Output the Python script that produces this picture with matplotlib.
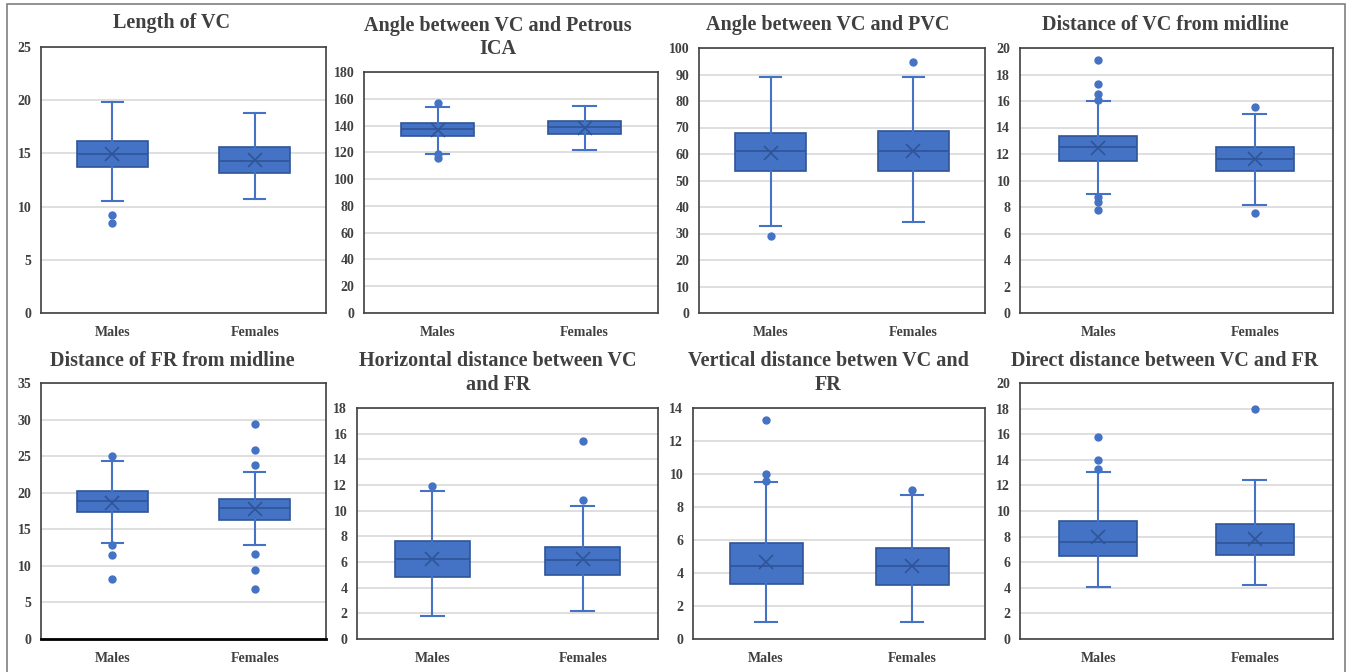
import matplotlib.pyplot as plt
from matplotlib.patches import Rectangle

# Panel titles and y axes
titles = ["Length of VC", "Angle between VC and Petrous\nICA", "Angle between VC and PVC",
          "Distance of VC from midline", "Distance of FR from midline",
          "Horizontal distance between VC\nand FR", "Vertical distance betwen VC and\nFR",
          "Direct distance between VC and FR"]
y_max = [25, 180, 100, 20, 35, 18, 14, 20]
y_step = [5, 20, 10, 2, 5, 2, 2, 2]
groups = ["Males", "Females"]

# Box statistics: [Males, Females]
whislo = [[10.5, 10.7], [119, 121.5], [32.7, 34.2], [9.0, 8.15],
          [13.1, 12.8], [1.8, 2.2], [1.05, 1.05], [4.05, 4.25]]
q1 = [[13.7, 13.2], [132.5, 134], [53.5, 53.5], [11.47, 10.7],
      [17.3, 16.3], [4.8, 5.0], [3.35, 3.25], [6.5, 6.55]]
med = [[14.9, 14.3], [137.5, 139], [61.0, 61.3], [12.55, 11.65],
       [18.8, 17.9], [6.2, 6.15], [4.45, 4.45], [7.6, 7.5]]
mean = [[14.9, 14.4], [136.8, 138], [60.5, 61.3], [12.48, 11.65],
        [18.6, 17.8], [6.2, 6.2], [4.65, 4.45], [7.95, 7.8]]
q3 = [[16.2, 15.6], [142, 143.5], [67.9, 68.8], [13.33, 12.53],
      [20.2, 19.2], [7.6, 7.2], [5.84, 5.54], [9.2, 9.0]]
whishi = [[19.8, 18.8], [154, 154.5], [89.1, 89.2], [16.0, 15.0],
          [24.3, 22.8], [11.5, 10.4], [9.52, 8.72], [13.05, 12.4]]
fliers = [
    [[9.2, 8.5], []],
    [[157, 118.5, 115.5], []],
    [[29.2], [94.8]],
    [[19.07, 17.28, 16.5, 16.1, 8.73, 8.35, 7.75], [15.57, 7.55]],
    [[25.0, 12.8, 11.5, 8.2], [29.4, 25.8, 23.8, 11.6, 9.5, 6.9]],
    [[11.9], [15.4, 10.8]],
    [[13.3, 10.0, 9.6], [9.03]],
    [[15.8, 14.0, 13.3], [18.0]],
]

# layout (pixels): left, right, top, bottom of each plot area; title centre x, title y
W, H = 1348, 672
plot_px = [(41, 326, 47, 313), (364, 658, 72, 313), (699, 985, 48, 313), (1020, 1333, 48, 313),
           (41, 326, 383, 639), (357, 658, 408, 639), (693, 985, 408, 639), (1020, 1333, 383, 639)]
title_px = [(172, 23), (498, 37), (828, 25), (1165, 25),
            (172, 361), (498, 373), (828, 373), (1165, 361)]

blue = "#4472C4"
dark = "#2F5597"
serif = "Liberation Serif"

fig = plt.figure(figsize=(W / 100, H / 100), dpi=100)
fig.patches.append(Rectangle((7 / W, -0.01), 1338 / W, 1 - 4 / H + 0.01, transform=fig.transFigure,
                             fill=False, edgecolor="#7f7f7f", linewidth=1.2))

for i in range(8):
    l, r, t, b = plot_px[i]
    ax = fig.add_axes([l / W, 1 - b / H, (r - l) / W, (b - t) / H])
    stats = []
    for j, g in enumerate(groups):
        stats.append(dict(label=g, whislo=whislo[i][j], q1=q1[i][j], med=med[i][j],
                          mean=mean[i][j], q3=q3[i][j], whishi=whishi[i][j], fliers=fliers[i][j]))
    ax.bxp(stats, positions=[1, 2], widths=0.5, capwidths=0.15, patch_artist=True,
           showmeans=True, meanline=False,
           boxprops=dict(facecolor=blue, edgecolor=dark, linewidth=1.2),
           medianprops=dict(color=dark, linewidth=1.2),
           meanprops=dict(marker="x", markeredgecolor=dark, markersize=10, markeredgewidth=1.2),
           whiskerprops=dict(color=blue, linewidth=1.5),
           capprops=dict(color=blue, linewidth=1.5),
           flierprops=dict(marker="o", markerfacecolor=blue, markeredgecolor=blue, markersize=5))
    ax.set_xlim(0.5, 2.5)
    ax.set_ylim(0, y_max[i])
    ax.set_yticks(range(0, y_max[i] + 1, y_step[i]))
    ax.grid(axis="y", color="#d9d9d9", linewidth=1.2)
    ax.set_axisbelow(True)
    for s in ax.spines.values():
        s.set_color("#404040")
        s.set_linewidth(1.2)
    if i == 4:
        ax.spines["bottom"].set_color("black")
        ax.spines["bottom"].set_linewidth(2)
    ax.tick_params(length=0, pad=7, labelsize=10, labelcolor="#404040")
    for lab in ax.get_xticklabels() + ax.get_yticklabels():
        lab.set_fontfamily(serif)
        lab.set_fontweight("bold")
    ax.tick_params(axis="x", pad=9)
    tx, ty = title_px[i]
    fig.text(tx / W, 1 - ty / H, titles[i], ha="center", va="center", fontsize=14.5,
             fontweight="bold", family=serif, color="#404040", linespacing=1.2)

fig.savefig("out.png", dpi=100)
